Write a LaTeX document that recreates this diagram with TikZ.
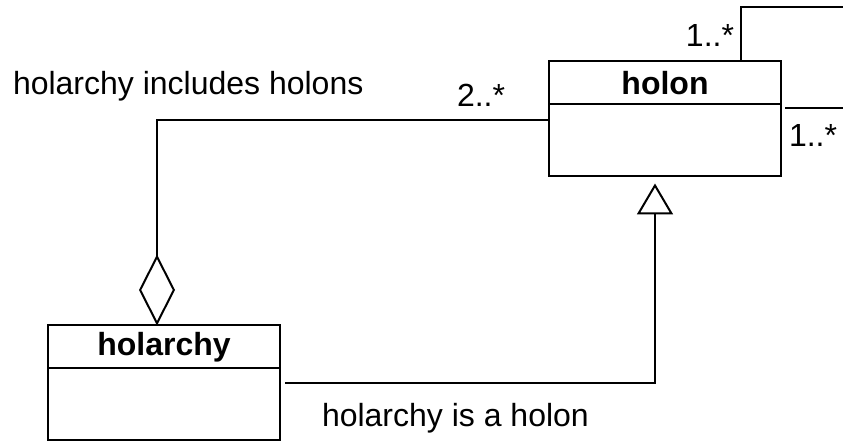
\documentclass[tikz,border=0pt]{standalone}
\usepackage{fontspec}
\setmainfont{Liberation Sans}
\usetikzlibrary{positioning,calc,arrows.meta}

\begin{document}
\begin{tikzpicture}[
  x=0.5pt, y=0.5pt,
  line width=1pt,
  cname/.style={draw, minimum width=116pt, minimum height=21.5pt, inner sep=0pt, outer sep=0pt,
                font=\fontsize{16}{19}\selectfont\bfseries},
  cbody/.style={draw, minimum width=116pt, minimum height=36pt, inner sep=0pt, outer sep=0pt},
  aggr/.style={{Diamond[open, length=35.5pt, width=18pt]}-},
  gen/.style={-{Triangle[open, length=15.5pt, width=18pt]}},
  lab/.style={font=\fontsize{16}{19}\selectfont, inner sep=0pt}
]
\useasboundingbox (0,0) rectangle (843,444);

% classes
\node[cname] (holon) at (665,361) {holon};
\node[cbody, below=0pt of holon] (holonbody) {};
\node[cname] (holarchy) at (164,97) {holarchy};
\node[cbody, below=0pt of holarchy] (holarchybody) {};

% self association on holon (runs off to the right)
\coordinate (loop) at (880,437);
\draw ($(holon.north east)+(-40,0)$) |- (loop) |- ($(holonbody.north east)+(4,-4)$);
\node[lab, anchor=base east] (mtop) at (735,397) {1..*};
\node[lab, anchor=base west] (mright) at (788,297) {1..*};

% aggregation
\draw[aggr] ($(holarchy.north)+(-7,0)$) |- ($(holonbody.north west)+(0,-16)$);
\node[lab, anchor=base west] (magg) at (456,337) {2..*};
\node[lab, anchor=base west] (incl) at (12,349) {holarchy includes holons};

% generalization
\draw[gen] ($(holarchybody.east)+(5,21)$) -| ($(holonbody.south)+(-10,-7)$);
\node[lab, anchor=base west] (isa) at (321,17) {holarchy is a holon};
\end{tikzpicture}
\end{document}
